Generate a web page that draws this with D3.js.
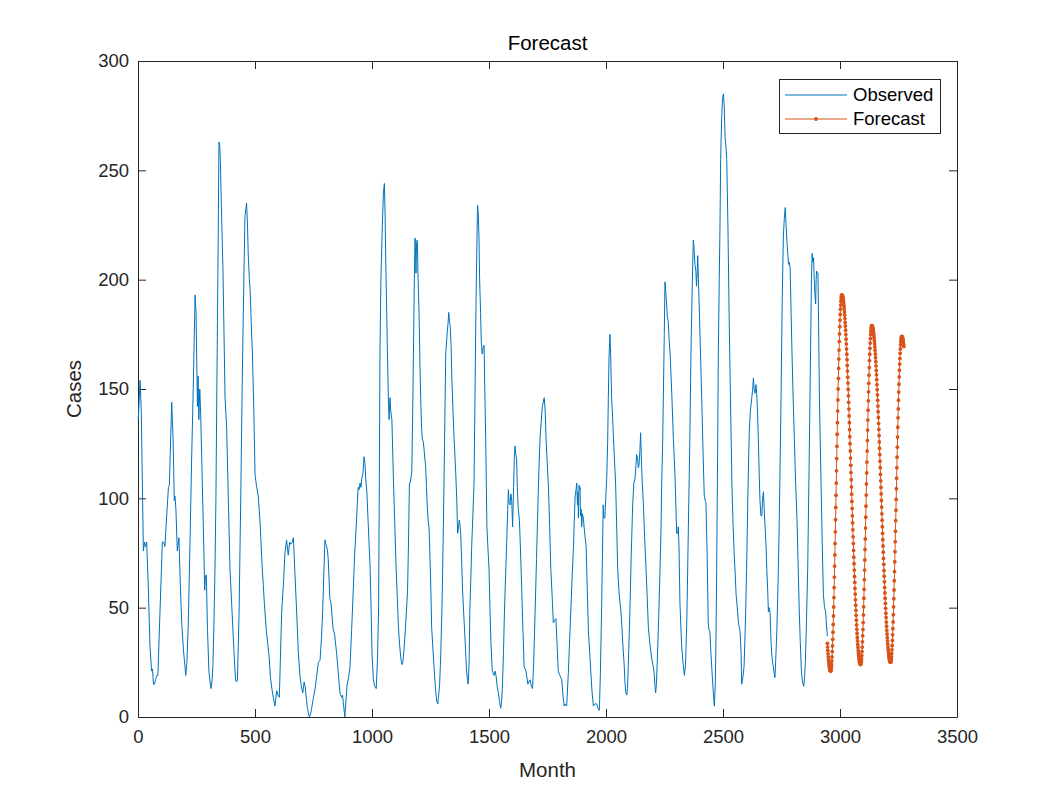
<!DOCTYPE html>
<html>
<head>
<meta charset="utf-8">
<script src="https://cdn.jsdelivr.net/npm/d3@7"></script>
<style>
  html, body { margin: 0; padding: 0; background: #ffffff; }
  svg { display: block; font-family: "Liberation Sans", Arial, Helvetica, sans-serif; }
</style>
</head>
<body>
<svg id="chart" width="1058" height="806"></svg>
<script>
// ---------------- data ----------------
const chartTitle = "Forecast";
const xLabel = "Month";
const yLabel = "Cases";
const seriesNames = ["Observed", "Forecast"];
const xTicks = [0, 500, 1000, 1500, 2000, 2500, 3000, 3500];
const yTicks = [0, 50, 100, 150, 200, 250, 300];

// observed series: [month, cases]
const observed = [
  [1,136],[9,154],[14,140],[23,76],[28,80],[32,78],[37,80],[44,60],[51,33],[58,21],[62,22],[66,15],[70,15],[75,17],[80,19],[85,19],
  [94,48],[104,80],[110,80],[115,78],[122,91],[130,105],[134,106],[144,144],[150,127],[155,99],[158,101],[162,95],[168,76],[175,82],
  [181,60],[187,43],[194,31],[204,19],[209,25],[215,43],[222,78],[229,117],[236,150],[244,193],[248,185],[254,142],[257,156],[260,136],
  [264,150],[268,138],[272,120],[279,88],[285,58],[288,64],[292,65],[297,40],[303,21],[308,16],[312,13],[316,16],[320,23],[325,45],
  [329,68],[333,100],[337,150],[342,210],[346,263],[349,262],[352,254],[356,235],[363,205],[372,146],[379,132],[386,100],[393,68],
  [402,48],[410,30],[417,17],[421,16],[425,17],[432,48],[440,107],[445,150],[450,185],[457,229],[464,235],[468,225],[471,212],[476,200],
  [479,196],[484,180],[489,166],[495,140],[500,111],[506,106],[514,101],[522,88],[531,68],[540,52],[548,40],[554,34],[560,28],[566,18],
  [572,13],[578,9],[585,5],[593,12],[598,10],[604,9],[614,48],[622,62],[628,75],[635,81],[642,74],[648,80],[653,79],[659,80],[664,82],
  [671,65],[678,48],[685,30],[692,19],[698,14],[704,11],[710,16],[714,14],[720,8],[724,4],[732,0],[737,1],[742,4],[750,9],[757,13],
  [765,20],[771,25],[778,26],[784,36],[789,48],[794,65],[799,81],[803,79],[806,78],[810,76],[813,72],[820,54],[825,52],[834,40],[840,38],
  [849,29],[856,20],[863,11],[870,9],[874,10],[877,7],[882,2],[884,0],[889,8],[894,15],[900,18],[906,23],[913,40],[920,58],[926,75],
  [932,86],[937,97],[941,105],[945,104],[949,107],[953,105],[956,109],[961,111],[966,119],[970,116],[973,109],[978,103],[984,88],[992,68],
  [996,50],[1000,29],[1006,17],[1012,14],[1018,13],[1023,25],[1028,48],[1031,100],[1034,166],[1038,200],[1044,224],[1049,240],[1053,244],
  [1056,230],[1058,214],[1062,190],[1066,166],[1070,145],[1073,136],[1075,142],[1077,146],[1080,140],[1085,136],[1092,107],[1098,86],
  [1103,68],[1108,55],[1113,41],[1118,33],[1123,27],[1128,24],[1132,25],[1137,31],[1142,39],[1147,48],[1152,58],[1156,80],[1160,107],
  [1163,107],[1170,112],[1174,140],[1177,166],[1181,200],[1184,219],[1186,212],[1188,203],[1190,215],[1192,218],[1194,217],[1197,200],
  [1201,185],[1205,160],[1208,146],[1212,132],[1215,127],[1219,126],[1222,123],[1226,118],[1229,115],[1233,105],[1236,97],[1240,90],
  [1244,86],[1250,65],[1255,41],[1260,32],[1266,21],[1272,12],[1277,7],[1281,6],[1284,9],[1289,15],[1294,29],[1300,55],[1305,87],
  [1310,125],[1315,166],[1319,172],[1322,177],[1325,180],[1328,185],[1331,181],[1334,179],[1338,170],[1341,156],[1346,140],[1351,127],
  [1355,118],[1358,111],[1362,100],[1366,84],[1369,86],[1373,90],[1376,88],[1379,84],[1383,72],[1387,58],[1392,47],[1397,37],[1400,30],
  [1404,21],[1408,17],[1411,15],[1415,25],[1418,48],[1422,62],[1426,78],[1431,92],[1436,107],[1440,145],[1444,185],[1448,215],[1451,234],
  [1454,230],[1457,220],[1460,200],[1464,185],[1467,172],[1471,166],[1475,169],[1479,170],[1482,150],[1486,127],[1491,87],[1495,78],
  [1500,68],[1504,50],[1508,35],[1514,21],[1518,20],[1522,19],[1526,21],[1530,19],[1535,14],[1540,11],[1545,7],[1550,4],[1553,6],
  [1557,13],[1562,30],[1566,48],[1571,65],[1576,81],[1580,95],[1583,104],[1586,98],[1590,97],[1594,102],[1597,99],[1601,87],[1605,105],
  [1608,118],[1611,124],[1615,120],[1618,118],[1621,105],[1625,95],[1630,90],[1635,75],[1640,58],[1645,40],[1650,23],[1654,22],[1658,21],
  [1662,18],[1666,15],[1670,16],[1676,17],[1681,14],[1686,13],[1691,25],[1697,48],[1703,72],[1709,97],[1713,112],[1718,127],[1723,135],
  [1728,142],[1732,144],[1736,146],[1740,140],[1744,127],[1749,116],[1754,105],[1759,88],[1764,68],[1770,55],[1775,43],[1780,44],
  [1786,45],[1791,33],[1796,21],[1803,19],[1811,17],[1816,10],[1821,5],[1826,6],[1832,5],[1839,20],[1846,39],[1853,58],[1861,78],
  [1864,88],[1868,101],[1872,104],[1875,107],[1878,97],[1880,103],[1882,91],[1885,106],[1887,104],[1889,105],[1891,92],[1894,95],
  [1896,87],[1899,93],[1903,91],[1908,85],[1915,78],[1920,58],[1925,39],[1930,30],[1935,21],[1940,12],[1946,5],[1952,6],[1960,6],
  [1966,4],[1970,3],[1972,4],[1976,20],[1981,48],[1985,75],[1988,97],[1991,91],[1995,91],[1999,100],[2003,109],[2007,125],[2010,146],
  [2013,165],[2017,175],[2020,165],[2024,146],[2027,140],[2031,130],[2036,118],[2041,107],[2045,90],[2050,68],[2055,58],[2060,52],
  [2064,48],[2067,43],[2072,33],[2077,25],[2081,16],[2085,11],[2089,10],[2092,13],[2097,30],[2102,48],[2108,75],[2114,97],[2119,107],
  [2124,109],[2128,115],[2131,120],[2135,118],[2138,114],[2141,115],[2145,122],[2148,130],[2151,118],[2155,107],[2160,97],[2165,82],
  [2171,68],[2176,55],[2181,41],[2188,33],[2195,27],[2200,24],[2205,21],[2209,15],[2212,11],[2215,14],[2219,25],[2225,45],[2231,68],
  [2235,85],[2238,107],[2242,125],[2245,146],[2249,175],[2252,199],[2255,195],[2259,189],[2262,183],[2266,181],[2270,172],[2274,166],
  [2281,148],[2288,127],[2295,110],[2302,84],[2306,84],[2309,87],[2312,78],[2316,52],[2323,33],[2329,25],[2335,19],[2340,24],[2345,43],
  [2348,60],[2352,87],[2358,125],[2363,166],[2368,195],[2373,218],[2376,215],[2380,207],[2384,204],[2387,197],[2390,204],[2392,211],
  [2395,200],[2397,193],[2403,170],[2409,146],[2415,120],[2420,101],[2424,99],[2427,98],[2432,75],[2437,43],[2440,40],[2444,39],
  [2449,28],[2454,19],[2458,12],[2463,5],[2467,15],[2470,35],[2473,68],[2477,120],[2480,166],[2484,200],[2487,224],[2490,255],
  [2494,273],[2498,283],[2502,285],[2505,280],[2509,265],[2512,262],[2516,255],[2521,225],[2526,185],[2532,145],[2538,107],[2543,88],
  [2548,74],[2552,66],[2556,56],[2561,50],[2566,43],[2570,41],[2573,39],[2577,30],[2580,15],[2585,18],[2590,23],[2595,40],[2601,68],
  [2606,100],[2612,130],[2617,140],[2623,146],[2627,150],[2630,155],[2633,150],[2637,148],[2641,152],[2644,148],[2648,138],[2651,127],
  [2655,110],[2658,99],[2662,92],[2666,92],[2669,100],[2673,103],[2676,95],[2680,87],[2684,78],[2687,68],[2691,58],[2694,48],[2698,50],
  [2701,48],[2705,35],[2708,29],[2712,25],[2715,23],[2719,20],[2722,18],[2726,28],[2730,39],[2735,60],[2740,87],[2744,115],[2748,146],
  [2753,190],[2758,220],[2762,228],[2766,233],[2769,226],[2773,218],[2776,213],[2780,207],[2783,208],[2787,205],[2791,185],[2795,166],
  [2800,145],[2805,127],[2810,108],[2816,91],[2821,70],[2826,48],[2830,35],[2835,21],[2840,16],[2845,14],[2848,17],[2852,25],[2857,45],
  [2862,68],[2868,115],[2874,166],[2878,200],[2881,212],[2884,208],[2887,210],[2890,200],[2893,193],[2896,189],[2898,200],[2900,204],
  [2903,203],[2906,203],[2909,175],[2912,146],[2915,128],[2919,107],[2924,80],[2929,56],[2934,50],[2939,48],[2942,42],[2946,37]
];

// forecast series: one value per month starting at forecastStartMonth
const forecastStartMonth = 2946;
const forecastCases = [
  33.7,32.0,30.4,28.9,27.5,26.3,25.2,24.2,23.4,22.7,22.1,21.6,21.3,21.1,
  21.0,21.2,21.7,22.7,23.9,25.6,27.5,29.9,32.5,35.5,38.8,42.3,46.2,50.3,54.6,59.2,64.0,69.0,74.1,79.4,84.7,90.2,95.8,101.4,107.0,
  112.6,118.2,123.8,129.3,134.6,139.9,145.0,150.0,154.8,159.4,163.7,167.8,171.7,175.2,178.5,181.5,184.1,186.5,188.4,190.1,191.4,192.3,192.8,193.0,
  192.9,192.7,192.4,192.0,191.4,190.7,189.8,188.9,187.8,186.6,185.2,183.8,182.2,180.5,178.8,176.9,174.9,172.8,170.6,168.3,
  165.9,163.4,160.8,158.2,155.4,152.7,149.8,146.9,143.9,140.8,137.7,134.6,131.4,128.2,125.0,121.7,118.4,115.1,111.8,108.5,
  105.2,101.9,98.6,95.3,92.0,88.8,85.6,82.4,79.3,76.2,73.1,70.1,67.2,64.3,61.6,58.8,56.2,53.6,51.1,48.8,
  46.5,44.3,42.1,40.1,38.2,36.4,34.8,33.2,31.8,30.4,29.2,28.1,27.2,26.3,25.6,25.0,24.6,24.3,24.1,24.0,
  24.2,24.7,25.5,26.6,28.1,29.9,32.0,34.4,37.1,40.0,43.2,46.7,50.4,54.3,58.4,62.8,67.2,71.8,76.6,81.4,86.4,91.4,96.4,101.5,
  106.6,111.6,116.6,121.6,126.4,131.2,135.8,140.3,144.6,148.7,152.6,156.3,159.8,163.0,165.9,168.6,171.0,173.1,174.9,176.4,177.5,178.3,178.8,179.0,
  178.9,178.8,178.5,178.1,177.5,176.9,176.1,175.2,174.2,173.1,171.9,170.6,169.2,167.7,166.0,164.3,162.5,160.6,158.5,156.5,
  154.3,152.0,149.7,147.3,144.8,142.2,139.6,137.0,134.2,131.5,128.7,125.8,122.9,120.0,117.0,114.0,111.0,108.0,105.0,102.0,
  99.0,96.0,92.9,90.0,87.0,84.0,81.1,78.2,75.4,72.5,69.8,67.0,64.4,61.8,59.2,56.7,54.3,52.0,49.7,47.5,
  45.5,43.4,41.5,39.7,38.0,36.3,34.8,33.4,32.1,30.9,29.8,28.8,27.9,27.1,26.5,26.0,25.5,25.2,25.1,25.0,
  25.2,25.6,26.4,27.5,29.0,30.7,32.7,35.0,37.6,40.4,43.5,46.8,50.4,54.1,58.1,62.3,66.5,71.0,75.6,80.2,85.0,89.8,94.6,99.5,
  104.4,109.2,114.0,118.8,123.4,128.0,132.5,136.8,140.9,144.9,148.6,152.2,155.5,158.6,161.4,164.0,166.3,168.3,170.1,171.5,172.6,173.4,173.8,174.0,
  173.9,173.8,173.5,173.1,172.6,171.9,171.2,170.4,169.4
];

// ---------------- drawing ----------------
const colors = { observed: "#0072BD", forecast: "#D95319", axis: "#262626" };
const margin = { left: 138, right: 957, top: 61, bottom: 717 };
const tickFont = 18.5, labelFont = 20.5;

const svg = d3.select("#chart");
const x = d3.scaleLinear().domain([0, 3500]).range([margin.left, margin.right]);
const y = d3.scaleLinear().domain([0, 300]).range([margin.bottom, margin.top]);

const forecast = forecastCases.map((v, i) => [forecastStartMonth + i, v]);

// axes
function styleAxis(g) {
  g.selectAll("path.domain").attr("stroke", colors.axis).attr("stroke-width", 1);
  g.selectAll(".tick line").attr("stroke", colors.axis).attr("stroke-width", 1);
  g.selectAll(".tick text").attr("fill", colors.axis).attr("font-size", tickFont)
    .attr("font-family", "'Liberation Sans', Arial, Helvetica, sans-serif");
}
const gx = svg.append("g").attr("transform", `translate(0,${margin.bottom})`)
  .call(d3.axisBottom(x).tickValues(xTicks).tickSizeInner(-8).tickSizeOuter(0).tickPadding(13).tickFormat(d3.format("d")));
styleAxis(gx);
const gxt = svg.append("g").attr("transform", `translate(0,${margin.top})`)
  .call(d3.axisTop(x).tickValues(xTicks).tickSizeInner(-8).tickSizeOuter(0).tickFormat(""));
styleAxis(gxt);
const gy = svg.append("g").attr("transform", `translate(${margin.left},0)`)
  .call(d3.axisLeft(y).tickValues(yTicks).tickSizeInner(-8).tickSizeOuter(0).tickPadding(9).tickFormat(d3.format("d")));
styleAxis(gy);
const gyr = svg.append("g").attr("transform", `translate(${margin.right},0)`)
  .call(d3.axisRight(y).tickValues(yTicks).tickSizeInner(-8).tickSizeOuter(0).tickFormat(""));
styleAxis(gyr);

// lines
const line = d3.line().x(d => x(d[0])).y(d => y(d[1]));
svg.append("path").datum(observed).attr("d", line)
  .attr("fill", "none").attr("stroke", colors.observed).attr("stroke-width", 1).attr("stroke-linejoin", "round");
svg.append("path").datum(forecast).attr("d", line)
  .attr("fill", "none").attr("stroke", colors.forecast).attr("stroke-width", 1);
svg.append("g").selectAll("circle").data(forecast).join("circle")
  .attr("cx", d => x(d[0])).attr("cy", d => y(d[1])).attr("r", 1.9).attr("fill", colors.forecast);

// title & labels
svg.append("text").attr("x", (margin.left + margin.right) / 2).attr("y", 50)
  .attr("text-anchor", "middle").attr("font-size", labelFont).attr("fill", "#000").text(chartTitle);
svg.append("text").attr("x", (margin.left + margin.right) / 2).attr("y", 777)
  .attr("text-anchor", "middle").attr("font-size", labelFont).attr("fill", colors.axis).text(xLabel);
svg.append("text").attr("transform", `translate(81,${(margin.top + margin.bottom) / 2}) rotate(-90)`)
  .attr("text-anchor", "middle").attr("font-size", labelFont).attr("fill", colors.axis).text(yLabel);

// legend
const lg = svg.append("g");
lg.append("rect").attr("x", 779.5).attr("y", 79.5).attr("width", 161).attr("height", 54)
  .attr("fill", "#fff").attr("stroke", colors.axis).attr("stroke-width", 1);
const rows = [
  { name: seriesNames[0], color: colors.observed, y: 95, marker: false },
  { name: seriesNames[1], color: colors.forecast, y: 119, marker: true }
];
rows.forEach(r => {
  lg.append("line").attr("x1", 785).attr("x2", 847).attr("y1", r.y).attr("y2", r.y)
    .attr("stroke", r.color).attr("stroke-width", 1);
  if (r.marker) lg.append("circle").attr("cx", 816).attr("cy", r.y).attr("r", 1.9).attr("fill", r.color);
  lg.append("text").attr("x", 853).attr("y", r.y).attr("dy", "0.35em")
    .attr("font-size", tickFont).attr("fill", "#000").text(r.name);
});
</script>
</body>
</html>
